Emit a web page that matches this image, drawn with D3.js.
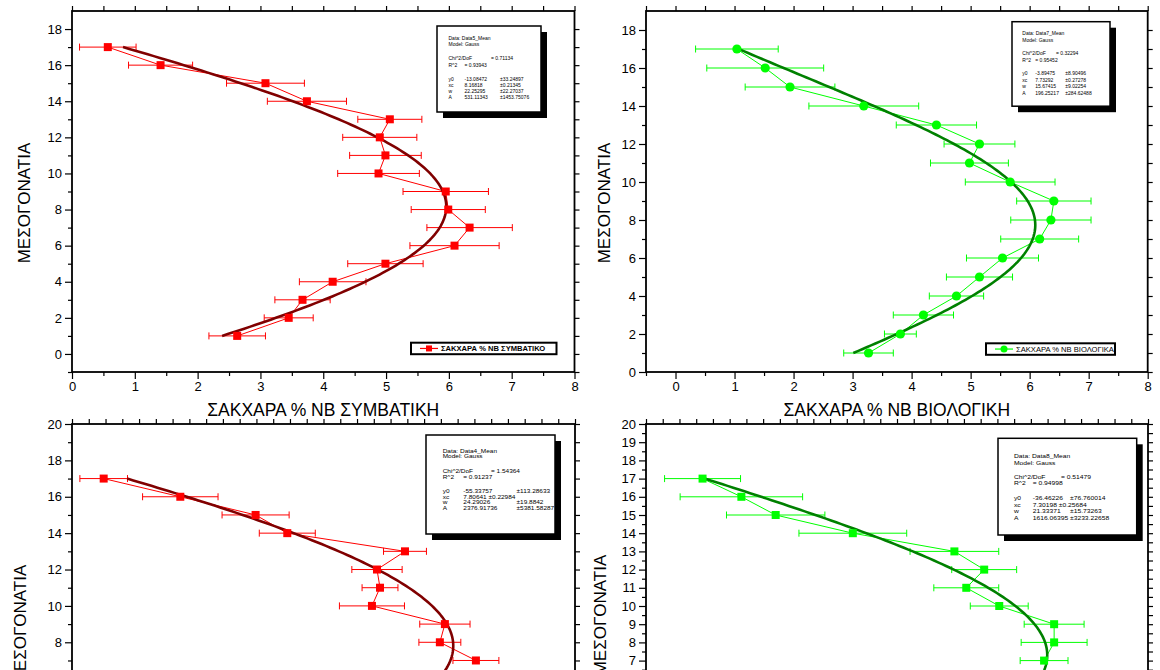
<!DOCTYPE html>
<html>
<head>
<meta charset="utf-8">
<script src="https://cdn.jsdelivr.net/npm/d3@7/dist/d3.min.js"></script>
<style>
  body { margin: 0; background: #fff; }
  svg { display: block; font-family: "Liberation Sans", Arial, sans-serif; }
</style>
</head>
<body>
<script>
// depth (ΜΕΣΟΓΟΝΑΤΙΑ) - same for every panel
const depth = [17, 16, 15, 14, 13, 12, 11, 10, 9, 8, 7, 6, 5, 4, 3, 2, 1];

// top-left: conventional
const sugarConv    = [0.57, 1.41, 3.08, 3.74, 5.06, 4.90, 4.99, 4.88, 5.95, 5.99, 6.33, 6.09, 4.99, 4.15, 3.67, 3.45, 2.63];
const sugarConvErr = [0.45, 0.51, 0.62, 0.63, 0.51, 0.59, 0.57, 0.65, 0.68, 0.59, 0.68, 0.71, 0.60, 0.53, 0.44, 0.39, 0.45];

// top-right: organic
const sugarBio    = [1.04, 1.52, 1.94, 3.19, 4.42, 5.15, 4.98, 5.67, 6.41, 6.36, 6.17, 5.54, 5.15, 4.76, 4.20, 3.81, 3.27];
const sugarBioErr = [0.70, 0.99, 0.76, 0.93, 0.68, 0.60, 0.66, 0.76, 0.63, 0.68, 0.66, 0.61, 0.56, 0.46, 0.51, 0.27, 0.42];

// bottom panels (only depths 17..7 are visible)
const depthLow = [17, 16, 15, 14, 13, 12, 11, 10, 9, 8, 7];
const data4    = [1.89, 6.46, 10.95, 12.84, 19.86, 18.19, 18.37, 17.89, 22.24, 21.94, 24.09];
const data4Err = [1.42, 2.25, 2.00, 1.67, 1.28, 1.50, 1.07, 1.94, 1.50, 1.25, 1.37];
const data8    = [3.38, 5.70, 7.75, 12.36, 18.43, 20.21, 19.14, 21.11, 24.39, 24.39, 23.79];
const data8Err = [2.27, 3.66, 2.94, 3.22, 2.65, 1.94, 1.94, 1.73, 1.79, 1.97, 1.43];

// Gauss fit parameters: y0, xc, w, A
const fitConv = [-13.08472, 8.16818, 22.25295, 531.11343];
const fitBio  = [-3.89475, 7.73292, 15.67415, 196.25217];
const fit4    = [-55.33757, 7.80641, 24.29026, 2376.91736];
const fit8    = [-36.46226, 7.30198, 21.33371, 1616.06395];

// fit report texts
const boxConv = ["Data: Data5_Mean", "Model: Gauss", "Chi^2/DoF", "= 0.71134", "R^2", "= 0.93943",
  ["y0", "-13.08472", "±33.24897"], ["xc", "8.16818", "±0.21345"], ["w", "22.25295", "±22.27037"], ["A", "531.11343", "±1453.75076"]];
const boxBio = ["Data: Data7_Mean", "Model: Gauss", "Chi^2/DoF", "= 0.32294", "R^2", "= 0.95452",
  ["y0", "-3.89475", "±8.90496"], ["xc", "7.73292", "±0.27278"], ["w", "15.67415", "±9.02254"], ["A", "196.25217", "±284.62488"]];
const box4 = ["Data: Data4_Mean", "Model: Gauss", "Chi^2/DoF", "= 1.54364", "R^2", "= 0.91237",
  ["y0", "-55.33757", "±113.28633"], ["xc", "7.80641 ±0.22984", ""], ["w", "24.29026", "±19.8842"], ["A", "2376.91736", "±5381.58287"]];
const box8 = ["Data: Data8_Mean", "Model: Gauss", "Chi^2/DoF", "= 0.51479", "R^2", "= 0.94998",
  ["y0", "-36.46226", "±76.760014"], ["xc", "7.30198 ±0.25684", ""], ["w", "21.33371", "±15.73263"], ["A", "1616.06395", "±3233.22658"]];

const W = 1160, H = 670;
const RED = "#ff0000", DARKRED = "#800000", GREEN = "#00ff00", DARKGREEN = "#008000";

const svg = d3.select("body").append("svg").attr("width", W).attr("height", H);

function gauss(p, d) {
  return p[0] + p[3] / (p[2] * Math.sqrt(Math.PI / 2)) * Math.exp(-2 * Math.pow((d - p[1]) / p[2], 2));
}

function panel(o) {
  const w = o.right - o.left, h = o.bottom - o.top;
  const g = svg.append("g").attr("transform", "translate(" + o.left + "," + o.top + ")");
  const x = d3.scaleLinear().domain(o.xDomain).range([0, w]);
  const y = d3.scaleLinear().domain(o.yDomain).range([h, 0]);

  // axes: major + minor ticks on all four sides
  function axis(gen, scale, values, size, labels, tr) {
    const a = g.append("g").attr("transform", tr)
      .call(gen(scale).tickValues(values).tickSize(size).tickPadding(3)
        .tickFormat(labels ? d3.format("d") : ""));
    a.select(".domain").remove();
    a.selectAll("line").attr("stroke", "#000").attr("stroke-width", 1.2);
    a.selectAll("text").attr("fill", "#000").style("font-size", "13px");
    return a;
  }
  axis(d3.axisLeft, y, o.yMajor, 7, true, null);
  axis(d3.axisLeft, y, o.yMinor, 4, false, null);
  axis(d3.axisRight, y, o.yMinor.concat(o.yMajor), 5, false, "translate(" + w + ",0)");
  axis(d3.axisBottom, x, o.xMajor, 7, true, "translate(0," + h + ")");
  axis(d3.axisBottom, x, o.xMinor, 4, false, "translate(0," + h + ")");
  axis(d3.axisTop, x, o.xMinor.concat(o.xMajor), 5, false, null);

  g.append("rect").attr("width", w).attr("height", h)
    .attr("fill", "none").attr("stroke", "#000").attr("stroke-width", 1.8);

  const plot = g.append("g");

  // error bars
  const eb = plot.selectAll(".eb").data(o.vals).enter().append("g");
  eb.append("line")
    .attr("x1", (d, i) => x(d - o.errs[i])).attr("x2", (d, i) => x(d + o.errs[i]))
    .attr("y1", (d, i) => y(o.depths[i])).attr("y2", (d, i) => y(o.depths[i]))
    .attr("stroke", o.color).attr("stroke-width", 1);
  [-1, 1].forEach(s => {
    eb.append("line")
      .attr("x1", (d, i) => x(d + s * o.errs[i])).attr("x2", (d, i) => x(d + s * o.errs[i]))
      .attr("y1", (d, i) => y(o.depths[i]) - 3.5).attr("y2", (d, i) => y(o.depths[i]) + 3.5)
      .attr("stroke", o.color).attr("stroke-width", 1);
  });

  // connecting line
  plot.append("path").datum(o.vals)
    .attr("fill", "none").attr("stroke", o.color).attr("stroke-width", 1)
    .attr("d", d3.line().x(d => x(d)).y((d, i) => y(o.depths[i])));

  // fit curve
  const fd = d3.range(1, 17.001, 0.1);
  plot.append("path").datum(fd)
    .attr("fill", "none").attr("stroke", o.fitColor).attr("stroke-width", 2.6)
    .attr("d", d3.line().x(d => x(gauss(o.fit, d))).y(d => y(d)));

  // markers
  if (o.marker === "circle") {
    plot.selectAll(".m").data(o.vals).enter().append("circle")
      .attr("cx", d => x(d)).attr("cy", (d, i) => y(o.depths[i])).attr("r", 4.6)
      .attr("fill", o.color);
  } else {
    plot.selectAll(".m").data(o.vals).enter().append("rect")
      .attr("x", d => x(d) - 4).attr("y", (d, i) => y(o.depths[i]) - 4)
      .attr("width", 8).attr("height", 8).attr("fill", o.color);
  }

  // fit report box
  const b = o.box;
  const bg = svg.append("g").attr("transform", "translate(" + b.x + "," + b.y + ")");
  bg.append("rect").attr("x", 6).attr("y", 6).attr("width", b.w).attr("height", b.h).attr("fill", "#000");
  bg.append("rect").attr("width", b.w).attr("height", b.h).attr("fill", "#fff")
    .attr("stroke", "#000").attr("stroke-width", 1.5);
  const t = o.boxText, fs = b.fs, r = b.rows, c = b.cols;
  function txt(s, xx, yy) {
    bg.append("text").attr("transform", "translate(" + xx + "," + yy + ") scale(" + b.sx + ",1)").text(s)
      .style("font-size", fs + "px").attr("fill", "#000");
  }
  txt(t[0], c[0], r[0]);
  txt(t[1], c[0], r[1]);
  txt(t[2], c[0], r[2]); txt(t[3], c[3], r[2]);
  txt(t[4], c[0], r[3]); txt(t[5], c[1], r[3]);
  t.slice(6).forEach((row, k) => {
    txt(row[0], c[0], r[4 + k]);
    txt(row[1], c[1], r[4 + k]);
    txt(row[2], c[2], r[4 + k]);
  });

  // axis titles
  svg.append("text")
    .attr("transform", "translate(" + o.yTitle[0] + "," + o.yTitle[1] + ") rotate(-90)")
    .attr("text-anchor", "middle").style("font-size", "17px").text("ΜΕΣΟΓΟΝΑΤΙΑ");
  svg.append("text")
    .attr("x", o.left + w / 2).attr("y", o.bottom + 44)
    .attr("text-anchor", "middle").style("font-size", "17.5px").text(o.xTitle);

  // legend
  if (o.legend) {
    const L = o.legend;
    const lg = svg.append("g").attr("transform", "translate(" + L.x + "," + L.y + ")");
    lg.append("rect").attr("width", L.w).attr("height", 11.5).attr("fill", "#fff")
      .attr("stroke", "#000").attr("stroke-width", 2);
    lg.append("line").attr("x1", 9).attr("x2", 27).attr("y1", 5.75).attr("y2", 5.75)
      .attr("stroke", o.color).attr("stroke-width", 1.2);
    if (o.marker === "circle") {
      lg.append("circle").attr("cx", 18).attr("cy", 5.75).attr("r", 3.5).attr("fill", o.color);
    } else {
      lg.append("rect").attr("x", 15).attr("y", 2.75).attr("width", 6).attr("height", 6).attr("fill", o.color);
    }
    lg.append("text").attr("x", 30).attr("y", 8.8).text(L.label)
      .style("font-size", "7.6px").style("font-weight", L.bold ? "bold" : "normal");
  }
}

panel({
  left: 72, right: 574.5, top: 11, bottom: 372,
  xDomain: [0, 8], yDomain: [-1, 19],
  xMajor: d3.range(0, 9), xMinor: d3.range(0.5, 8, 1),
  yMajor: d3.range(0, 19, 2), yMinor: d3.range(-1, 19, 2),
  vals: sugarConv, errs: sugarConvErr, depths: depth,
  color: RED, fitColor: DARKRED, fit: fitConv, marker: "square",
  box: { x: 437, y: 26, w: 104, h: 86, fs: 5, sx: 1, rows: [14, 20, 34, 40.5, 54.5, 60.8, 67, 73.3], cols: [11.5, 27.5, 63, 54] },
  boxText: boxConv,
  yTitle: [30, 203], xTitle: "ΣΑΚΧΑΡΑ % ΝΒ ΣΥΜΒΑΤΙΚΗ",
  legend: { x: 411, y: 342.7, w: 145.5, label: "ΣΑΚΧΑΡΑ % ΝΒ ΣΥΜΒΑΤΙΚΟ", bold: true }
});

panel({
  left: 646, right: 1147.7, top: 11, bottom: 372,
  xDomain: [-0.5, 8], yDomain: [0, 19],
  xMajor: d3.range(0, 9), xMinor: d3.range(-0.5, 8, 1),
  yMajor: d3.range(0, 19, 2), yMinor: d3.range(1, 19, 2),
  vals: sugarBio, errs: sugarBioErr, depths: depth,
  color: GREEN, fitColor: DARKGREEN, fit: fitBio, marker: "circle",
  box: { x: 1012, y: 21.7, w: 98, h: 84.5, fs: 5, sx: 1, rows: [13.3, 20, 33.3, 40, 53.3, 60, 66.7, 73.3], cols: [10.3, 23.3, 53.3, 44] },
  boxText: boxBio,
  yTitle: [610, 203], xTitle: "ΣΑΚΧΑΡΑ % ΝΒ ΒΙΟΛΟΓΙΚΗ",
  legend: { x: 986, y: 343.3, w: 129, label: "ΣΑΚΧΑΡΑ % ΝΒ ΒΙΟΛΟΓΙΚΑ", bold: false }
});

panel({
  left: 72, right: 575, top: 424, bottom: 806,
  xDomain: [0, 30], yDomain: [-1, 20],
  xMajor: d3.range(0, 31, 5), xMinor: d3.range(1, 30, 1).filter(v => v % 5),
  yMajor: d3.range(0, 21, 2), yMinor: d3.range(-1, 20, 2),
  vals: data4, errs: data4Err, depths: depthLow,
  color: RED, fitColor: DARKRED, fit: fit4, marker: "square",
  box: { x: 426, y: 435, w: 129, h: 99, fs: 5.4, sx: 1.2, rows: [17.5, 23, 37.5, 44, 58, 63.5, 69, 74.5], cols: [16.7, 37.3, 90.5, 65] },
  boxText: box4,
  yTitle: [26, 625], xTitle: "ΣΑΚΧΑΡΑ % ΝΒ ΣΥΜΒΑΤΙΚΗ",
  legend: null
});

panel({
  left: 646, right: 1148, top: 424, bottom: 788,
  xDomain: [0, 30], yDomain: [0, 20],
  xMajor: d3.range(0, 31, 5), xMinor: d3.range(1, 30, 1).filter(v => v % 5),
  yMajor: d3.range(0, 21, 1), yMinor: d3.range(0.5, 20, 1),
  vals: data8, errs: data8Err, depths: depthLow,
  color: GREEN, fitColor: DARKGREEN, fit: fit8, marker: "square",
  box: { x: 998, y: 438.3, w: 138.7, h: 96.7, fs: 5.6, sx: 1.2, rows: [20, 26.5, 40.5, 47, 62, 68.5, 75, 81.5], cols: [16, 34.7, 72, 63] },
  boxText: box8,
  yTitle: [606, 615], xTitle: "ΣΑΚΧΑΡΑ % ΝΒ ΒΙΟΛΟΓΙΚΗ",
  legend: null
});

// the page is cropped at the bottom: drop texts that lie wholly below it
svg.selectAll("text").each(function() {
  const r = this.getBoundingClientRect();
  if (r.top >= H - 1) d3.select(this).remove();
});
</script>
</body>
</html>
